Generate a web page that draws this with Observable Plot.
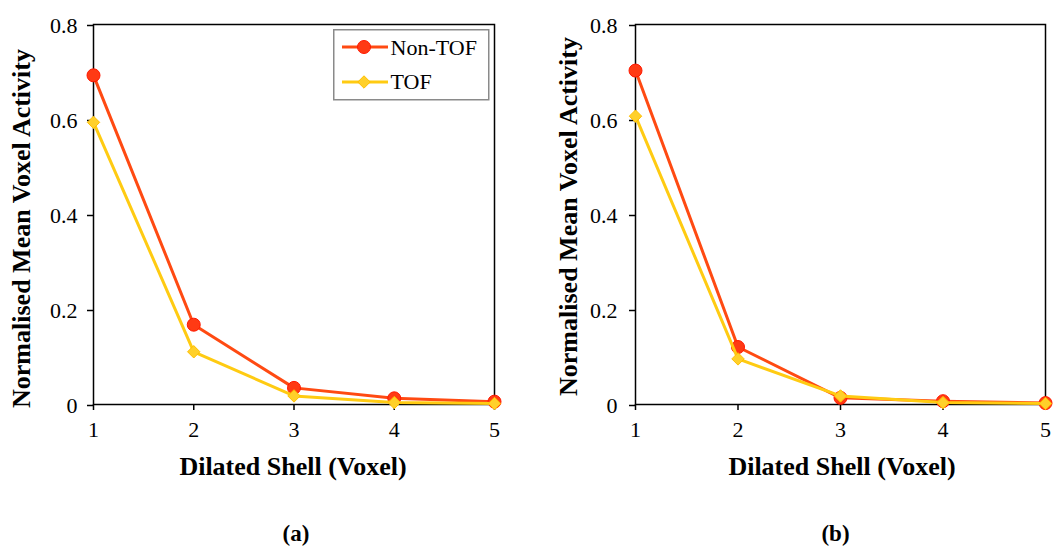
<!DOCTYPE html>
<html><head><meta charset="utf-8">
<script src="https://cdn.jsdelivr.net/npm/d3@7"></script>
<script src="https://cdn.jsdelivr.net/npm/@observablehq/plot@0.6"></script>
<style>
html,body{margin:0;padding:0;background:#fff;}
#wrap{position:relative;width:1055px;height:546px;overflow:hidden;font-family:"Liberation Serif","Times New Roman",serif;}
.panel{position:absolute;top:0;}
#legend{position:absolute;left:333px;top:29px;}
</style></head><body><div id="wrap"></div>
<script>
// ---- data ----
const shells = [1, 2, 3, 4, 5];
const seriesNames = ["Non-TOF", "TOF"];
const nonTofA = [0.693, 0.168, 0.035, 0.013, 0.006];
const tofA    = [0.594, 0.111, 0.018, 0.004, 0.002];
const nonTofB = [0.703, 0.121, 0.014, 0.007, 0.003];
const tofB    = [0.607, 0.096, 0.018, 0.004, 0.002];
const yTicks = [0, 0.2, 0.4, 0.6, 0.8];
const yTickLabels = ["0", "0.2", "0.4", "0.6", "0.8"];
const xTickLabels = ["1", "2", "3", "4", "5"];
const yLabel = "Normalised Mean Voxel Activity";
const xLabel = "Dilated Shell (Voxel)";
const captions = ["(a)", "(b)"];

// ---- styles ----
const FONT = '"Liberation Serif","Times New Roman",serif';
const redLine = "#FF4A12", redFill = "#FF3A14", redStroke = "#FF1800";
const yelLine = "#FFCB12", yelFill = "#FFD02A", yelStroke = "#FFBF00";

function rows(vals, name) { return shells.map((s, i) => ({shell: s, value: vals[i], series: name})); }

function panel(o) {
  const nt = rows(o.nonTof, seriesNames[0]);
  const tf = rows(o.tof, seriesNames[1]);
  return Plot.plot({
    width: o.width, height: 546,
    marginLeft: o.ml, marginRight: o.mr, marginTop: 24, marginBottom: 142,
    x: {domain: [1, 5]},
    y: {domain: [0, 0.8]},
    style: `font-family: ${FONT}; font-size: 22px; color: #000; background: transparent; overflow: visible;`,
    marks: [
      Plot.axisY(yTicks, {tickSize: 6, tickPadding: o.tp, tickFormat: d => yTickLabels[yTicks.indexOf(d)], label: null, dy: 1, fontSize: 22, strokeWidth: 1.5}),
      Plot.axisX(shells, {tickSize: 6, tickPadding: 11, tickFormat: d => xTickLabels[shells.indexOf(d)], label: null, fontSize: 22, strokeWidth: 1.5}),
      Plot.frame({stroke: "#000", strokeWidth: 1.5}),
      Plot.line(nt, {x: "shell", y: "value", stroke: redLine, strokeWidth: 3}),
      Plot.dot(nt, {x: "shell", y: "value", r: 6.5, fill: redFill, stroke: redStroke, strokeWidth: 1}),
      Plot.line(tf, {x: "shell", y: "value", stroke: yelLine, strokeWidth: 3}),
      Plot.dot(tf, {x: "shell", y: "value", symbol: "diamond2", r: 5.6, fill: yelFill, stroke: yelStroke, strokeWidth: 1}),
      Plot.text([yLabel], {text: d => d, frameAnchor: "left", rotate: -90, dx: o.ydx, dy: o.ydy, fontWeight: "bold", fontSize: 26, textAnchor: "middle", lineAnchor: "middle"}),
      Plot.text([xLabel], {text: d => d, frameAnchor: "bottom", dx: o.xdx, dy: 62, fontWeight: "bold", fontSize: 26, textAnchor: "middle", lineAnchor: "middle"}),
      Plot.text([o.caption], {text: d => d, frameAnchor: "bottom", dx: o.cdx, dy: 129, fontWeight: "bold", fontSize: 23, textAnchor: "middle", lineAnchor: "middle"})
    ]
  });
}

const wrap = document.getElementById("wrap");
const pa = panel({width: 527, ml: 93, mr: 33, tp: 10, nonTof: nonTofA, tof: tofA, ydx: -72, ydy: 14, xdx: -1, cdx: 2, caption: captions[0]});
pa.classList.add("panel"); pa.style.left = "0px";
const pb = panel({width: 528, ml: 108, mr: 10, tp: 12, nonTof: nonTofB, tof: tofB, ydx: -67, ydy: 2, xdx: 1.5, cdx: -5, caption: captions[1]});
pb.classList.add("panel"); pb.style.left = "527px";
wrap.appendChild(pa); wrap.appendChild(pb);

// ---- legend (left panel) ----
const lg = d3.select(wrap).append("svg").attr("id", "legend").attr("width", 158).attr("height", 73)
  .style("font-family", FONT).style("font-size", "22px");
lg.append("rect").attr("x", 0.75).attr("y", 0.75).attr("width", 155).attr("height", 70)
  .attr("fill", "#fff").attr("stroke", "#8a8a8a").attr("stroke-width", 1.5);
const items = [
  {name: seriesNames[0], line: redLine, fill: redFill, stroke: redStroke, sym: d3.symbolCircle, size: Math.PI * 6.5 * 6.5, cy: 18, ty: 26},
  {name: seriesNames[1], line: yelLine, fill: yelFill, stroke: yelStroke, sym: d3.symbolDiamond2, size: Math.PI * 5.6 * 5.6, cy: 53, ty: 60}
];
items.forEach(it => {
  lg.append("line").attr("x1", 9).attr("x2", 55).attr("y1", it.cy).attr("y2", it.cy).attr("stroke", it.line).attr("stroke-width", 3);
  lg.append("path").attr("d", d3.symbol(it.sym, it.size)()).attr("transform", `translate(31,${it.cy})`)
    .attr("fill", it.fill).attr("stroke", it.stroke).attr("stroke-width", 1);
  lg.append("text").attr("x", 57.5).attr("y", it.ty).attr("fill", "#000").text(it.name);
});
</script></body></html>
